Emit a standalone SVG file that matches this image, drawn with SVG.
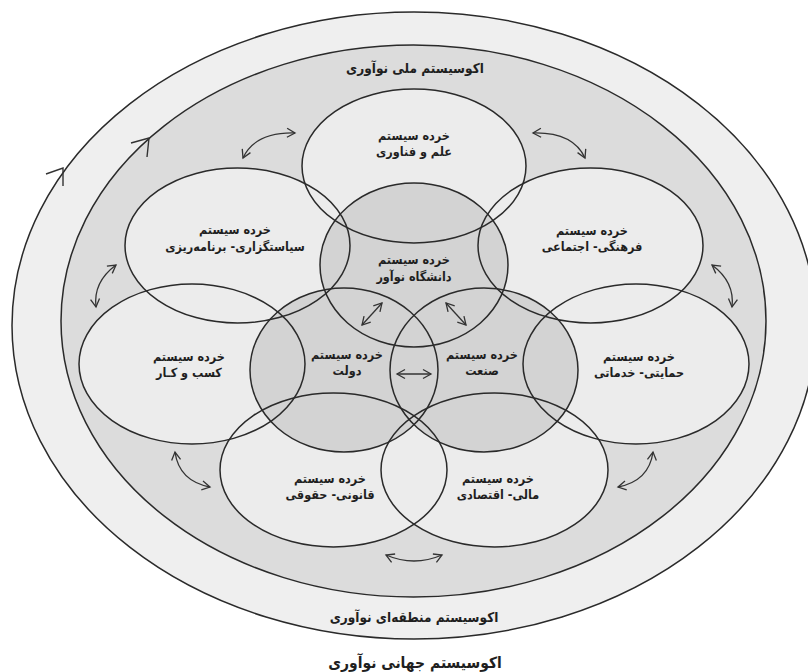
<svg xmlns="http://www.w3.org/2000/svg" xmlns:xlink="http://www.w3.org/1999/xlink" width="808" height="672" viewBox="0 0 808 672">
<style>
.lbl{font-family:'DejaVu Sans',sans-serif;font-weight:bold;font-stretch:condensed;fill:#1f1f1f;text-anchor:middle;direction:rtl}
.eco{font-size:13.5px}
.glob{font-size:15.5px}
.sub{font-size:12.5px}
.ring{fill:#efefef}
.nat{fill:#dcdcdc}
.light{fill:#ececec}
.core{fill:#d3d3d3}
.ol{fill:none;stroke:#2a2a2a;stroke-width:1.5}
.arr{fill:none;stroke:#333;stroke-width:1.3;marker-start:url(#ah);marker-end:url(#ah)}
.tick{fill:none;stroke:#333;stroke-width:1.4;stroke-linejoin:miter}
</style>
<defs>
<marker id="ah" markerUnits="userSpaceOnUse" markerWidth="14" markerHeight="14" viewBox="-10 -7 14 14" refX="0" refY="0" orient="auto-start-reverse">
<path d="M-8,-4.5 L0,0 L-8,4.5" fill="none" stroke="#333" stroke-width="1.3"/>
</marker>
<ellipse id="e-reg" cx="414" cy="325.5" rx="402" ry="313.5"/>
<ellipse id="e-nat" cx="413.5" cy="321" rx="352.5" ry="276"/>
<ellipse id="e-ilm" cx="414" cy="166" rx="112" ry="77"/>
<ellipse id="e-siy" cx="237.5" cy="245.5" rx="112.5" ry="77.5"/>
<ellipse id="e-far" cx="590.5" cy="245.5" rx="112.5" ry="77.5"/>
<ellipse id="e-kas" cx="192" cy="364" rx="113" ry="80"/>
<ellipse id="e-ham" cx="636" cy="364" rx="113" ry="80"/>
<ellipse id="e-qan" cx="333.5" cy="470" rx="113.5" ry="77"/>
<ellipse id="e-mal" cx="494.5" cy="470" rx="113.5" ry="77"/>
<ellipse id="e-dan" cx="414" cy="265" rx="94" ry="82"/>
<ellipse id="e-dol" cx="344" cy="370" rx="94" ry="82"/>
<ellipse id="e-san" cx="484" cy="370" rx="94" ry="82"/>
</defs>
<rect width="808" height="672" fill="#ffffff"/>
<g id="global">
<text class="lbl glob" x="415" y="668">اکوسیستم جهانی نوآوری</text>
</g>
<g id="regional">
<use href="#e-reg" class="ring"/>
<text class="lbl eco" x="414" y="622">اکوسیستم منطقه‌ای نوآوری</text>
</g>
<g id="national">
<use href="#e-nat" class="nat"/>
<text class="lbl eco" x="415" y="73">اکوسیستم ملی نوآوری</text>
</g>
<g id="node-ilm">
<use href="#e-ilm" class="light"/>
<text class="lbl sub" x="414" y="140">خرده سیستم</text>
<text class="lbl sub" x="414" y="156">علم و فناوری</text>
</g>
<g id="node-siyasat">
<use href="#e-siy" class="light"/>
<text class="lbl sub" x="235" y="234">خرده سیستم</text>
<text class="lbl sub" x="235" y="251">سیاستگزاری- برنامه‌ریزی</text>
</g>
<g id="node-farhangi">
<use href="#e-far" class="light"/>
<text class="lbl sub" x="592" y="235">خرده سیستم</text>
<text class="lbl sub" x="592" y="251">فرهنگی- اجتماعی</text>
</g>
<g id="node-kasb">
<use href="#e-kas" class="light"/>
<text class="lbl sub" x="189" y="361">خرده سیستم</text>
<text class="lbl sub" x="189" y="377">کسب و کـار</text>
</g>
<g id="node-hemayati">
<use href="#e-ham" class="light"/>
<text class="lbl sub" x="639" y="361">خرده سیستم</text>
<text class="lbl sub" x="639" y="377">حمایتی- خدماتی</text>
</g>
<g id="node-qanuni">
<use href="#e-qan" class="light"/>
<text class="lbl sub" x="330" y="483">خرده سیستم</text>
<text class="lbl sub" x="330" y="499">قانونی- حقوقی</text>
</g>
<g id="node-mali">
<use href="#e-mal" class="light"/>
<text class="lbl sub" x="498" y="483">خرده سیستم</text>
<text class="lbl sub" x="498" y="499">مالی- اقتصادی</text>
</g>
<g id="node-daneshgah">
<use href="#e-dan" class="core"/>
<text class="lbl sub" x="414" y="264">خرده سیستم</text>
<text class="lbl sub" x="414" y="281">دانشگاه نوآور</text>
</g>
<g id="node-dolat">
<use href="#e-dol" class="core"/>
<text class="lbl sub" x="347" y="359">خرده سیستم</text>
<text class="lbl sub" x="347" y="375">دولت</text>
</g>
<g id="node-sanat">
<use href="#e-san" class="core"/>
<text class="lbl sub" x="482" y="359">خرده سیستم</text>
<text class="lbl sub" x="482" y="375">صنعت</text>
</g>
<g id="outlines">
<use href="#e-reg" class="ol"/>
<use href="#e-nat" class="ol"/>
<use href="#e-ilm" class="ol"/>
<use href="#e-siy" class="ol"/>
<use href="#e-far" class="ol"/>
<use href="#e-kas" class="ol"/>
<use href="#e-ham" class="ol"/>
<use href="#e-qan" class="ol"/>
<use href="#e-mal" class="ol"/>
<use href="#e-dan" class="ol"/>
<use href="#e-dol" class="ol"/>
<use href="#e-san" class="ol"/>
<path class="tick" d="M46,174 L63,168 L63,186"/>
<path class="tick" d="M131,143 L149,138 L147,157"/>
</g>
<g id="connectors">
<path class="arr" d="M243,158 Q255,132 295,133"/>
<path class="arr" d="M533,133 Q573,132 585,158"/>
<path class="arr" d="M116,265 Q93,282 96,307"/>
<path class="arr" d="M712,265 Q735,282 732,307"/>
<path class="arr" d="M175,452 Q179,481 210,487"/>
<path class="arr" d="M653,452 Q649,481 618,487"/>
<path class="arr" d="M386,555 Q414,567 442,555"/>
<path class="arr" d="M362,325 L382,303"/>
<path class="arr" d="M466,325 L446,303"/>
<path class="arr" d="M397,374 L431,374"/>
</g>
</svg>
